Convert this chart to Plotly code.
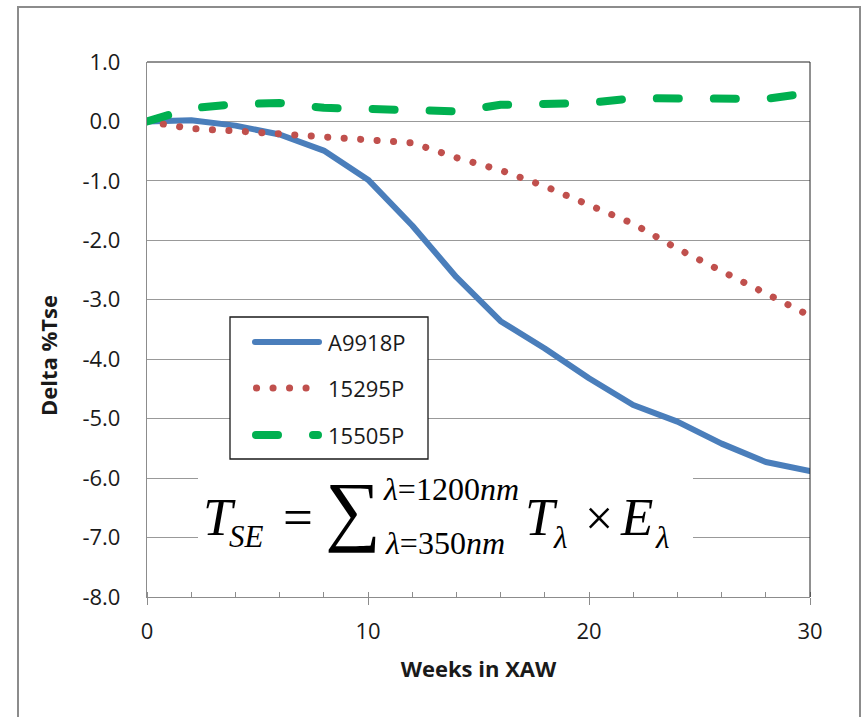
import plotly.graph_objects as go

# ---------------- data ----------------
weeks = [0, 2, 4, 6, 8, 10, 12, 14, 16, 18, 20, 22, 24, 26, 28, 30]
a9918p = [0, 0.02, -0.07, -0.22, -0.49, -0.98, -1.75, -2.62, -3.36, -3.82, -4.32, -4.77, -5.05, -5.42, -5.73, -5.88]
p15295 = [0, -0.12, -0.16, -0.21, -0.26, -0.29, -0.36, -0.61, -0.82, -1.09, -1.41, -1.72, -2.14, -2.52, -2.87, -3.27]
p15505 = [0, 0.22, 0.29, 0.31, 0.23, 0.21, 0.21, 0.17, 0.28, 0.31, 0.31, 0.39, 0.38, 0.38, 0.38, 0.48]

series_names = ["A9918P", "15295P", "15505P"]
y_tick_vals = [1, 0, -1, -2, -3, -4, -5, -6, -7, -8]
y_tick_text = ["1.0", "0.0", "-1.0", "-2.0", "-3.0", "-4.0", "-5.0", "-6.0", "-7.0", "-8.0"]
x_tick_vals = [0, 10, 20, 30]

BLUE = "#4A7EBB"
RED = "#C0504D"
GREEN = "#00B050"
FONT = "Open Sans, DejaVu Sans, sans-serif"
SERIF = "Liberation Serif, Times New Roman, DejaVu Serif, serif"

W, H = 865, 717
L, R, T, B = 147, 810, 62, 597  # plot area in screen pixels


def px(x):
    return (x - L) / (R - L)


def py(y):
    return (B - y) / (B - T)


BLUE_LINE = dict(color=BLUE, width=6)
RED_LINE = dict(color=RED, width=7, dash="0.1px,16.4px")
GREEN_LINE = dict(color=GREEN, width=8, dash="22px,35px")

fig = go.Figure()
for name, vals, st in zip(series_names, [a9918p, p15295, p15505], [BLUE_LINE, RED_LINE, GREEN_LINE]):
    fig.add_trace(go.Scatter(x=weeks, y=vals, mode="lines", name=name,
                             line=st, showlegend=False, hoverinfo="skip"))

shapes = []
# outer chart border
shapes.append(dict(type="rect", xref="paper", yref="paper",
                   x0=px(18), x1=px(860), y0=py(730), y1=py(7),
                   line=dict(color="#8C8C8C", width=2), fillcolor="rgba(0,0,0,0)", layer="above"))
# plot area top & right border
shapes.append(dict(type="line", xref="paper", yref="paper", x0=0, x1=1, y0=1, y1=1,
                   line=dict(color="#222222", width=1), layer="above"))
shapes.append(dict(type="line", xref="paper", yref="paper", x0=1, x1=1, y0=0, y1=1,
                   line=dict(color="#222222", width=1), layer="above"))
# formula white backdrop
shapes.append(dict(type="rect", xref="paper", yref="paper",
                   x0=px(198), x1=px(693), y0=py(563), y1=py(468),
                   line=dict(width=0), fillcolor="white", layer="above"))
# legend box
shapes.append(dict(type="rect", xref="paper", yref="paper",
                   x0=px(230), x1=px(428), y0=py(459), y1=py(317),
                   line=dict(color="#1A1A1A", width=1.3), fillcolor="white", layer="above"))
# legend samples
leg_y = [342, 388, 435]
leg_lines = [
    (255, 319, BLUE_LINE),
    (256.5, 308, RED_LINE),
    (256, 318, GREEN_LINE),
]
for yy, (xa, xb, ln) in zip(leg_y, leg_lines):
    shapes.append(dict(type="line", xref="paper", yref="paper",
                       x0=px(xa), x1=px(xb), y0=py(yy), y1=py(yy), line=ln, layer="above"))

annotations = []
for yy, name in zip(leg_y, series_names):
    annotations.append(dict(xref="paper", yref="paper", x=px(326), y=py(yy),
                            xanchor="left", yanchor="middle", showarrow=False, text=name,
                            font=dict(family=FONT, size=22, color="#1A1A1A")))

# y-axis title (placed as in the reference, slightly below axis centre)
annotations.append(dict(xref="paper", yref="paper", x=px(48), y=py(356),
                        xanchor="center", yanchor="middle", showarrow=False, textangle=-90,
                        text="<b>Delta %Tse</b>",
                        font=dict(family=FONT, size=22, color="#1A1A1A")))

K = 0.3375  # middle-of-box offset relative to baseline for the serif font


def math(text, left, base, size, xanchor="left"):
    annotations.append(dict(xref="paper", yref="paper", x=px(left), y=py(base - K * size),
                            xanchor=xanchor, yanchor="middle", showarrow=False, text=text,
                            borderpad=0,
                            font=dict(family=SERIF, size=size, color="black")))


math("<i>T</i>", 202, 535, 53)
math("<i>SE</i>", 228, 547, 31)
math("=", 282, 535, 53)
math("∑", 324, 536, 78)
math("<i>λ</i>=1200<i>nm</i>", 382, 500, 32)
math("<i>λ</i>=350<i>nm</i>", 384, 554, 32)
math("<i>T</i>", 524, 535, 53)
math("<i>λ</i>", 552, 548, 31)
math("×", 599, 535, 50, xanchor="center")
math("<i>E</i>", 619, 535, 53)
math("<i>λ</i>", 654, 548, 31)

fig.update_layout(
    width=W, height=H,
    margin=dict(l=L, r=W - R, t=T, b=H - B, autoexpand=False),
    paper_bgcolor="white", plot_bgcolor="white",
    font=dict(family=FONT, size=22, color="#1A1A1A"),
    shapes=shapes, annotations=annotations,
    xaxis=dict(range=[0, 30], tickvals=x_tick_vals, ticks="outside", ticklen=7,
               tickcolor="#8C8C8C", tickwidth=1,
               minor=dict(dtick=2, ticks="inside", ticklen=5, tickcolor="#8C8C8C", tickwidth=1,
                          showgrid=False),
               showline=True, linecolor="#8C8C8C", linewidth=1.3, showgrid=False,
               zeroline=False, ticklabelstandoff=7,
               tickfont=dict(family=FONT, size=22, color="#1A1A1A"),
               title=dict(text="<b>Weeks in XAW</b>", standoff=18,
                          font=dict(family=FONT, size=22, color="#1A1A1A"))),
    yaxis=dict(range=[-8, 1], tickvals=y_tick_vals, ticktext=y_tick_text, ticks="",
               showline=True, linecolor="#8C8C8C", linewidth=1.3,
               showgrid=True, gridcolor="#999999", gridwidth=1, zeroline=False,
               ticklabelstandoff=21,
               tickfont=dict(family=FONT, size=22, color="#1A1A1A")),
)

post = """
document.body.style.margin = '0';
document.body.style.padding = '0';
document.documentElement.style.overflow = 'hidden';
var gd = document.getElementById('{plot_id}');
function rc(){
  gd.querySelectorAll('path').forEach(function(p){
    var w = parseFloat(p.style.strokeWidth);
    if (w >= 5) { p.style.strokeLinecap = 'round'; p.style.strokeLinejoin = 'round'; }
  });
}
rc();
if (gd.on) { gd.on('plotly_afterplot', rc); }
setTimeout(rc, 50);
"""

fig.write_html("out.html", post_script=post, config={"displayModeBar": False})
